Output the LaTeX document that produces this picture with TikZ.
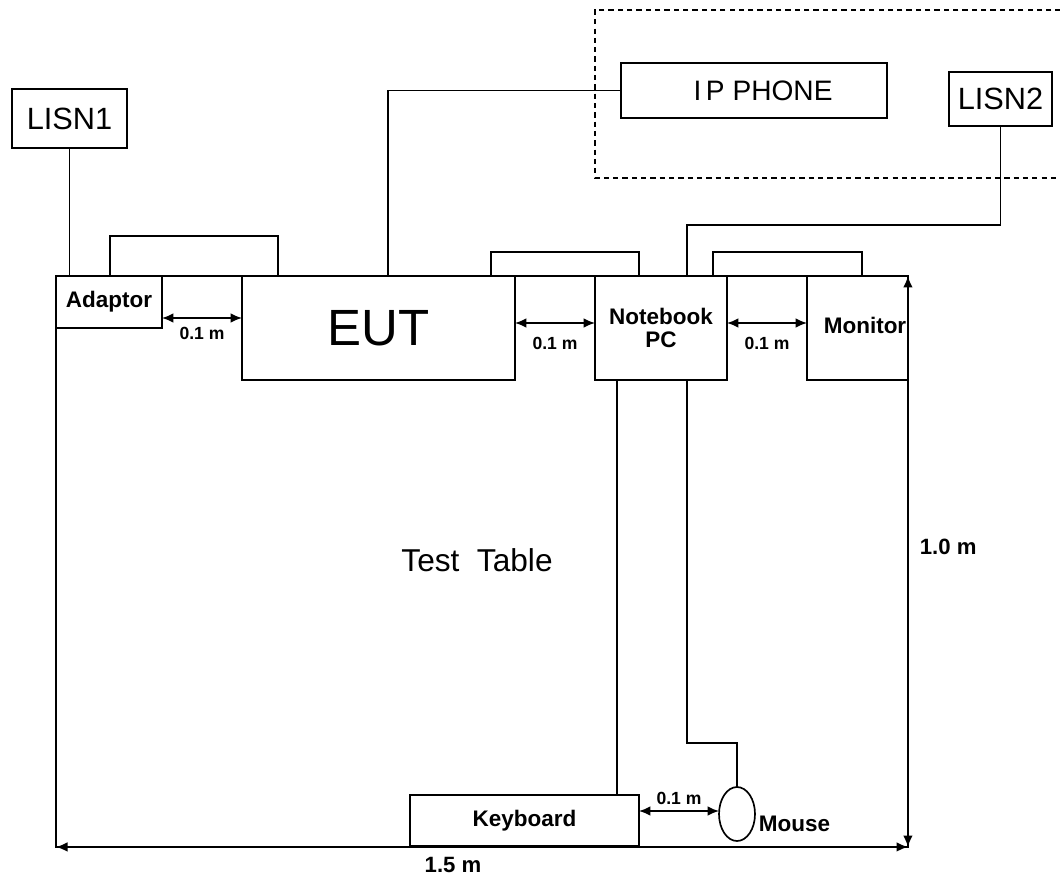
\documentclass[tikz,border=0pt]{standalone}
\usepackage{fontspec}
\setmainfont{Liberation Sans}
\usetikzlibrary{arrows.meta,shapes.geometric,calc}
\begin{document}
\begin{tikzpicture}[x=0.02cm,y=-0.02cm, line width=0.95pt,
  box/.style={draw, rectangle, inner sep=0pt, outer sep=0pt},
  dim/.style={{Latex[length=6.5pt,width=5.5pt]}-{Latex[length=6.5pt,width=5.5pt]}},
  dimlabel/.style={font=\bfseries\fontsize{10}{12}\selectfont, inner sep=1pt},
  lbl/.style={font=\bfseries\fontsize{12.8}{13.5}\selectfont, align=center},
  dashbox/.style={dash pattern=on 3pt off 2.3pt}]
\useasboundingbox (0,0) rectangle (1060,880);
% dashed area
\draw[dashbox] (1070,10) -- (595,10) -- (595,178) -- (1070,178);
% table
\node[box, minimum width=17.04cm, minimum height=11.42cm] (table) at (482,561.5) {};
\node[font=\fontsize{18}{21}\selectfont] (tt) at (477,560) {Test\ \ Table};
% boxes
\node[box, minimum width=2.30cm, minimum height=1.18cm, font=\fontsize{17.5}{20}\selectfont] (lisn1) at (69.5,118.5) {LISN1};
\node[box, minimum width=2.06cm, minimum height=1.08cm, font=\fontsize{17.5}{20}\selectfont] (lisn2) at (1000.5,99) {LISN2};
\node[box, minimum width=5.32cm, minimum height=1.10cm, font=\fontsize{16}{19}\selectfont] (ip) at (754,90.5) {\hspace*{0.36cm}I\,P PHONE};
\node[box, minimum width=2.12cm, minimum height=1.04cm, lbl] (adaptor) at (109,302) {Adaptor};
\node[box, minimum width=5.46cm, minimum height=2.08cm, font=\fontsize{29}{33}\selectfont] (eut) at (378.5,328) {EUT};
\node[box, minimum width=2.64cm, minimum height=2.08cm, lbl] (nb) at (661,328) {Notebook\\PC};
\node[box, minimum width=2.02cm, minimum height=2.08cm] (mon) at (857.5,328) {};
\node[lbl, inner sep=0pt] (montxt) at (865,325) {Monitor};
\node[box, minimum width=4.58cm, minimum height=1.02cm, lbl] (kb) at (524.5,820.5) {Keyboard};
\node[draw, ellipse, minimum width=0.72cm, minimum height=1.08cm, inner sep=0pt, outer sep=0pt] (mouse) at (737,814) {};
\node[lbl, anchor=base west, inner sep=0pt] (mousetxt) at (758,831) {Mouse};
% cables
\draw (lisn1.south) -- (lisn1.south |- adaptor.north);
\draw ([xshift=0.02cm]adaptor.north) -- ++(0,-40) -| ([xshift=-2.01cm]eut.north);
\draw ([xshift=2.25cm]eut.north) -- ++(0,-24) -| ([xshift=-0.44cm]nb.north);
\draw ([xshift=1.04cm]nb.north) -- ++(0,-24) -| ([xshift=0.09cm]mon.north);
\draw (ip.west) -| ([xshift=0.19cm]eut.north);
\draw (lisn2.south) -- ++(0,99) -| ([xshift=0.52cm]nb.north);
\draw ([xshift=-0.88cm]nb.south) -- ([xshift=-0.88cm]nb.south |- kb.north);
\draw ([xshift=0.52cm]nb.south) -- ++(0,363) -| (mouse.north);
% dimensions
\draw[dim] ([yshift=-0.32cm]adaptor.east) -- ([yshift=-0.32cm]adaptor.east -| eut.west)
  node[midway, below=3.9pt, dimlabel] {0.1 m};
\draw[dim] ([yshift=0.1cm]eut.east) -- ([yshift=0.1cm]nb.west)
  node[midway, below=6.7pt, dimlabel] {0.1 m};
\draw[dim] ([yshift=0.1cm]nb.east) -- ([yshift=0.1cm]mon.west)
  node[midway, below=6.7pt, dimlabel] {0.1 m};
\draw[dim] ([yshift=0.19cm]kb.east) -- ([yshift=0.19cm]kb.east -| mouse.west)
  node[midway, above=2.2pt, dimlabel] {0.1 m};
\draw[dim] (table.north east) -- (table.south east)
  node[pos=0.475, right=3pt, font=\bfseries\fontsize{12.6}{15}\selectfont] {1.0 m};
\draw[dim] (table.south west) -- (table.south east)
  node[pos=0.466, below=2pt, font=\bfseries\fontsize{12.6}{15}\selectfont] {1.5 m};
\end{tikzpicture}
\end{document}
